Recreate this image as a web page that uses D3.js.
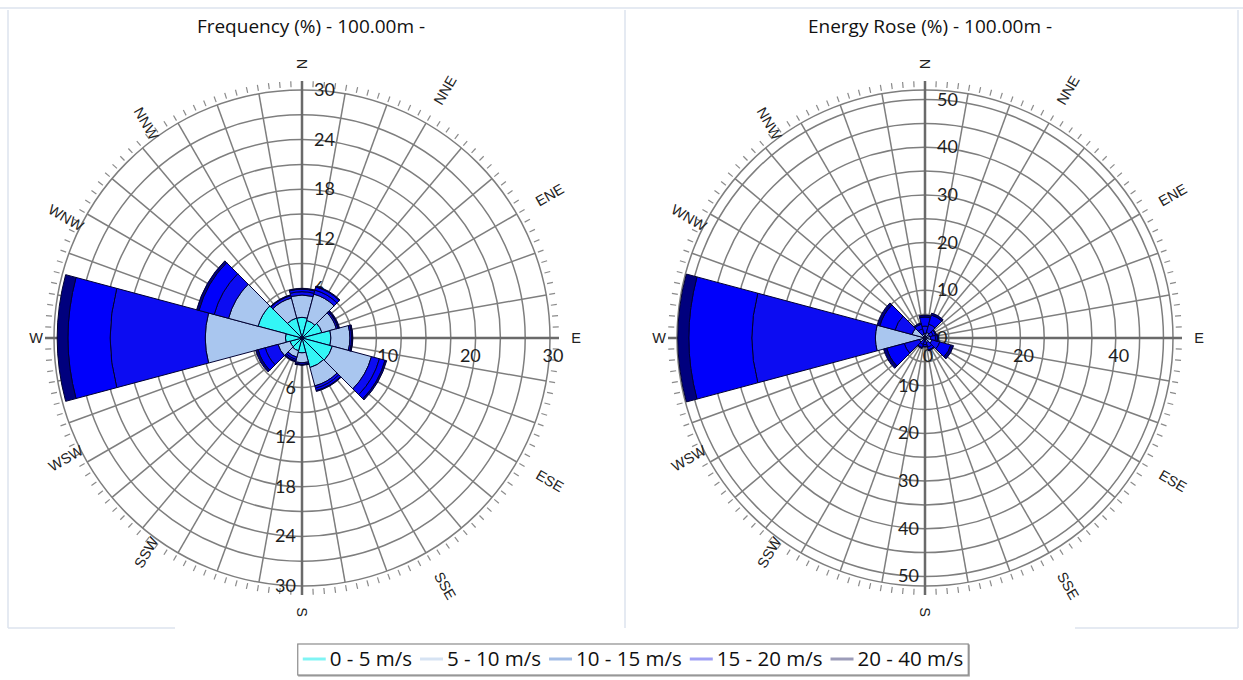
<!DOCTYPE html>
<html>
<head>
<meta charset="utf-8">
<title>Wind rose - 100.00m</title>
<script src="https://cdn.jsdelivr.net/npm/d3@7"></script>
<style>
  body { margin: 0; background: #fff; }
  svg { display: block; font-family: Lato, "Open Sans", sans-serif; }
  .frame { stroke: #dce3ee; stroke-width: 1.5; fill: none; }
  .ring, .spoke { stroke: #7e7e7e; stroke-width: 1.5; fill: none; }
  .axis { stroke: #6a6a6a; stroke-width: 2.5; }
  .tick { stroke: #8a8a8a; stroke-width: 1.2; }
  .num { font-size: 18px; fill: #1e1e1e; dominant-baseline: central; }
  .dir { font-family: "Liberation Sans", Arial, sans-serif; font-size: 14.5px; fill: #222; dominant-baseline: central; text-anchor: middle; }
  .title { font-family: "Open Sans", sans-serif; font-size: 19px; fill: #111; text-anchor: middle; }
  .sector { stroke: #000033; stroke-width: 1; }
  .legendText { font-family: "Open Sans", sans-serif; font-size: 20.5px; fill: #111; dominant-baseline: central; }
</style>
</head>
<body>
<svg id="chart" width="1243" height="680"></svg>
<script>
// directions (12 sectors of 30 degrees)
const directions = ["N", "NNE", "ENE", "E", "ESE", "SSE", "S", "SSW", "WSW", "W", "WNW", "NNW"];
const bearings = [0, 30, 60, 90, 120, 150, 180, 210, 240, 270, 300, 330];
const speedBins = ["0 - 5 m/s", "5 - 10 m/s", "10 - 15 m/s", "15 - 20 m/s", "20 - 40 m/s"];

// frequency (%) by speed bin, one value per direction
const freq0to5   = [2.5, 2.2, 2.5, 3.5, 3.8, 3.7, 1.8, 1.6, 1.5, 2.0, 5.5, 2.5];
const freq5to10  = [2.7, 3.3, 1.8, 2.3, 4.9, 2.3, 1.2, 0.8, 1.5, 9.7, 3.7, 2.5];
const freq10to15 = [0.4, 0.5, 0.2, 0.2, 1.0, 0.3, 0.2, 0.3, 1.6, 11.5, 1.8, 0.3];
const freq15to20 = [0.3, 0.4, 0.1, 0.1, 0.7, 0.3, 0.05, 0.2, 0.9, 5.1, 1.9, 0.05];
const freq20to40 = [0.1, 0.1, 0.1, 0.05, 0.2, 0.1, 0.05, 0.1, 0.3, 1.3, 0.3, 0.05];

// energy rose (%) by speed bin, one value per direction
const energy0to5   = [0.2, 0.2, 0.2, 0.3, 0.3, 0.3, 0.1, 0.1, 0.1, 0.3, 0.2, 0.2];
const energy5to10  = [0.8, 1.0, 0.8, 0.9, 1.2, 0.7, 0.5, 0.4, 1.1, 10.1, 2.6, 0.6];
const energy10to15 = [1.5, 1.8, 0.8, 1.0, 1.7, 1.0, 0.8, 0.9, 3.3, 25.9, 3.7, 1.2];
const energy15to20 = [1.9, 2.0, 0.5, 0.4, 2.4, 0.6, 0.4, 0.7, 3.8, 13.2, 3.3, 1.0];
const energy20to40 = [0.4, 0.4, 0.2, 0.2, 0.6, 0.2, 0.1, 0.2, 0.7, 2.3, 0.6, 0.3];

// grid rings and tick labels
const freqRings = [3, 6, 9, 12, 15, 18, 21, 24, 27, 30];
const freqTicksN = [6, 12, 18, 24, 30];
const freqTicksE = [10, 20, 30];
const energyRings = [5, 10, 15, 20, 25, 30, 35, 40, 45, 50, 52];
const energyTicksN = [0, 10, 20, 30, 40, 50];
const energyTicksS = [10, 20, 30, 40, 50];
const energyTicksE = [0, 20, 40];

const fillColours = ["#33f6f6", "#a9c6ef", "#0c0cf2", "#0000fb", "#00007e"];
const legendColours = ["#80f4f4", "#d6e3f3", "#a3bde6", "#a0a0f4", "#9c9cb9"];

const svg = d3.select("#chart");
const R = 248;

// panel frames
svg.append("line").attr("class", "frame").attr("x1", 0).attr("x2", 1243).attr("y1", 8).attr("y2", 8);
svg.append("line").attr("class", "frame").attr("x1", 8).attr("x2", 8).attr("y1", 10).attr("y2", 628);
svg.append("line").attr("class", "frame").attr("x1", 625).attr("x2", 625).attr("y1", 10).attr("y2", 628);
svg.append("line").attr("class", "frame").attr("x1", 1238).attr("x2", 1238).attr("y1", 10).attr("y2", 628);
svg.append("line").attr("class", "frame").attr("x1", 8).attr("x2", 175).attr("y1", 628).attr("y2", 628);
svg.append("line").attr("class", "frame").attr("x1", 1075).attr("x2", 1238).attr("y1", 628).attr("y2", 628);

function drawRose(opts) {
  const g = svg.append("g").attr("transform", "translate(" + opts.cx + "," + opts.cy + ")");
  const r = d3.scaleLinear().domain([0, opts.max]).range([0, R]);
  const rad = d => d * Math.PI / 180;

  // title
  svg.append("text").attr("class", "title")
    .attr("x", opts.titleX).attr("y", 33).text(opts.title);

  // rings
  g.selectAll(".ring").data(opts.rings).enter().append("circle")
    .attr("class", "ring").attr("r", d => r(d));

  // spokes every 10 degrees
  g.selectAll(".spoke").data(d3.range(0, 360, 10).filter(a => a % 90 !== 0)).enter().append("line")
    .attr("class", "spoke")
    .attr("x2", a => R * Math.sin(rad(a)))
    .attr("y2", a => -R * Math.cos(rad(a)));

  // outer tick marks
  g.selectAll(".tick").data(d3.range(0, 360, 2.5)).enter().append("line")
    .attr("class", "tick")
    .attr("x1", a => (R + 3) * Math.sin(rad(a)))
    .attr("y1", a => -(R + 3) * Math.cos(rad(a)))
    .attr("x2", a => (R + 9) * Math.sin(rad(a)))
    .attr("y2", a => -(R + 9) * Math.cos(rad(a)));

  // main axes
  g.selectAll(".axis").data([0, 90, 180, 270]).enter().append("line")
    .attr("class", "axis")
    .attr("x2", a => (R + 9) * Math.sin(rad(a)))
    .attr("y2", a => -(R + 9) * Math.cos(rad(a)));

  // tick labels (drawn under the data)
  g.selectAll(".numN").data(opts.ticksN).enter().append("text")
    .attr("class", "num").attr("x", 12).attr("y", d => -r(d) - 1).text(d => d);
  g.selectAll(".numS").data(opts.ticksS).enter().append("text")
    .attr("class", "num").attr("text-anchor", "end")
    .attr("x", -6).attr("y", d => r(d) - 1).text(d => d);
  g.selectAll(".numE").data(opts.ticksE).enter().append("text")
    .attr("class", "num").attr("text-anchor", "middle")
    .attr("x", d => r(d) + 3).attr("y", 17).text(d => d);

  // direction labels: right-hand side sit further out, left-hand side pulled in
  g.selectAll(".dir").data(directions).enter().append("text")
    .attr("class", "dir")
    .attr("transform", (d, i) => {
      const b = bearings[i];
      let lr = 286, lb = b;
      if (b % 90 === 0) lr = b === 270 ? 266 : 274;
      else if (b > 180) { lr = 265; lb = b + (270 - b) * 0.1; }
      const x = lr * Math.sin(rad(lb)), y = -lr * Math.cos(rad(lb));
      const rot = b === 0 ? 90 : (b <= 180 ? b - 90 : b - 270);
      return "translate(" + x + "," + y + ") rotate(" + rot + ")";
    })
    .text(d => d);

  // stacked sectors
  const rows = directions.map((d, i) => {
    const row = { dir: d, bearing: bearings[i] };
    opts.series.forEach((s, j) => row[speedBins[j]] = s[i]);
    return row;
  });
  const stacked = d3.stack().keys(speedBins)(rows);
  const arc = d3.arc()
    .innerRadius(d => r(d[0]))
    .outerRadius(d => r(d[1]))
    .startAngle(d => rad(d.data.bearing - 15))
    .endAngle(d => rad(d.data.bearing + 15));
  g.selectAll(".layer").data(stacked).enter().append("g")
    .attr("class", "layer")
    .attr("fill", (d, i) => fillColours[i])
    .selectAll("path").data(d => d).enter().append("path")
    .attr("class", "sector")
    .attr("d", arc);
}

drawRose({
  cx: 302, cy: 338, max: 30, titleX: 311, title: "Frequency (%) - 100.00m -",
  rings: freqRings, ticksN: freqTicksN, ticksS: freqTicksN, ticksE: freqTicksE,
  series: [freq0to5, freq5to10, freq10to15, freq15to20, freq20to40]
});
drawRose({
  cx: 925, cy: 338, max: 52, titleX: 930, title: "Energy Rose (%) - 100.00m -",
  rings: energyRings, ticksN: energyTicksN, ticksS: energyTicksS, ticksE: energyTicksE,
  series: [energy0to5, energy5to10, energy10to15, energy15to20, energy20to40]
});

// legend
const legend = svg.append("g");
const box = legend.append("rect")
  .attr("y", 644).attr("height", 31)
  .attr("fill", "#fff").attr("stroke", "#8c8c8c").attr("stroke-width", 1.2)
  .style("filter", "drop-shadow(1px 1px 0.5px rgba(0,0,0,0.35))");
let lx = 5;
const items = legend.append("g");
speedBins.forEach((b, i) => {
  items.append("line")
    .attr("x1", lx).attr("x2", lx + 23).attr("y1", 659).attr("y2", 659)
    .attr("stroke", legendColours[i]).attr("stroke-width", 3);
  const t = items.append("text").attr("class", "legendText")
    .attr("x", lx + 27).attr("y", 658).text(b);
  lx += 27 + t.node().getComputedTextLength() + 8;
});
const legendW = lx - 3;
const legendX = 633 - legendW / 2;
items.attr("transform", "translate(" + legendX + ",0)");
box.attr("x", legendX).attr("width", legendW);
</script>
</body>
</html>
